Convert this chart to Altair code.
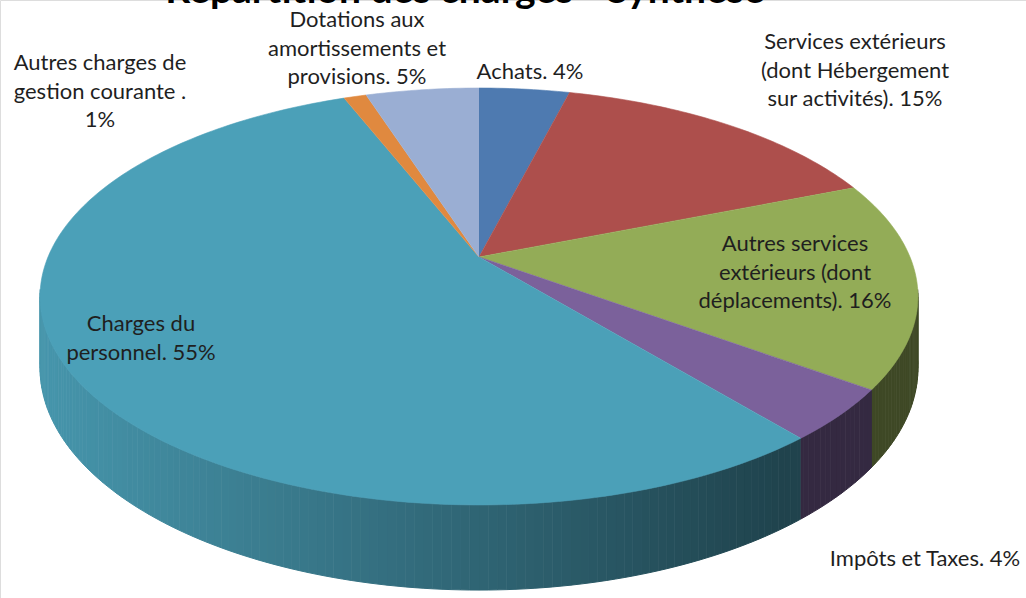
import numpy as np
import pandas as pd
import altair as alt

# ---------------- data ----------------
categories = [
    "Achats",
    "Services extérieurs (dont Hébergement sur activités)",
    "Autres services extérieurs (dont déplacements)",
    "Impôts et Taxes",
    "Charges du personnel",
    "Autres charges de gestion courante ",
    "Dotations aux amortissements et provisions",
]
percent = [4, 15, 16, 4, 55, 1, 5]
top_colors = ["#4E7AB0", "#AD4F4C", "#93AC57", "#7B619B", "#4BA0B8", "#E0893F", "#9AAED3"]

label_lines = [
    ["Achats. 4%"],
    ["Services extérieurs", "(dont Hébergement", "sur activités). 15%"],
    ["Autres services", "extérieurs (dont", "déplacements). 16%"],
    ["Impôts et Taxes. 4%"],
    ["Charges du", "personnel. 55%"],
    ["Autres charges de", "gestion courante .", "1%"],
    ["Dotations aux", "amortissements et", "provisions. 5%"],
]
# position of the first line of each label
label_x = [530, 855, 795, 925, 141, 100, 357]
label_y = [72, 42, 244, 559, 324, 63, 20]

title_text = "Répartition des charges - Synthèse"

# ---------------- 3D projection settings ----------------
W, H = 1026, 598
CX, AX = 479.0, 431.0
AY, BY, PC = 152.3, 257.0, -0.1894
DEPTH = 69.0


def proj(theta_deg):
    t = np.radians(theta_deg)
    u, v = np.sin(t), -np.cos(t)
    den = 1 + PC * v
    return CX + AX * u / den, (BY + AY * v) / den, den


def shade(hexcol, f):
    h = hexcol.lstrip("#")
    r, g, b = (int(h[i:i + 2], 16) for i in (0, 2, 4))
    return "#%02x%02x%02x" % tuple(int(max(0, min(255, round(c * f)))) for c in (r, g, b))


cum = np.concatenate([[0], np.cumsum(percent)]) / float(sum(percent)) * 360.0

# top surface polygons
top_rows = []
for i, cat in enumerate(categories):
    t0, t1 = cum[i], cum[i + 1]
    n = max(2, int(np.ceil(t1 - t0)) + 1)
    pts = [(CX, BY)]
    for t in np.linspace(t0, t1, n):
        x, y, _ = proj(t)
        pts.append((x, y))
    for k, (x, y) in enumerate(pts):
        top_rows.append({"poly": f"top{i}", "ord": k, "x": x, "y": y,
                         "col": top_colors[i], "cat": cat})
top_df = pd.DataFrame(top_rows)

# side wall polygons (front half only), shaded left-to-right
breaks = set(np.arange(99.0, 262.0, 1.0))
breaks.update([c for c in cum if 99 <= c <= 261])
breaks = sorted(breaks)
wall_rows = []
for j in range(len(breaks) - 1):
    a, b = breaks[j], breaks[j + 1]
    mid = 0.5 * (a + b)
    idx = int(np.searchsorted(cum, mid) - 1)
    xa, ya, da = proj(a)
    xb, yb, db = proj(b)
    xm = 0.5 * (xa + xb)
    f = 0.93 - (xm - 45.0) / (780.0 - 45.0) * 0.51
    f = max(0.42, min(0.93, f))
    col = shade(top_colors[idx], f)
    quad = [(xa, ya), (xb, yb), (xb, yb + DEPTH / db), (xa, ya + DEPTH / da)]
    for k, (x, y) in enumerate(quad):
        wall_rows.append({"poly": f"w{j}", "ord": k, "x": x, "y": y,
                          "col": col, "cat": categories[idx]})
wall_df = pd.DataFrame(wall_rows)

label_df = pd.DataFrame({
    "txt": ["\n".join(l) for l in label_lines],
    "x": label_x,
    "y": label_y,
})

xs = alt.Scale(domain=[0, W])
ys = alt.Scale(domain=[0, H], reverse=True)
X = alt.X("x:Q", scale=xs, axis=None)
Y = alt.Y("y:Q", scale=ys, axis=None)


def poly_layer(df, sw):
    return alt.Chart(df).mark_line(strokeWidth=sw, strokeJoin="round").encode(
        x=X, y=Y,
        order="ord:Q",
        detail="poly:N",
        fill=alt.Fill("col:N", scale=None),
        stroke=alt.Stroke("col:N", scale=None),
    )


walls = poly_layer(wall_df, 1)
tops = poly_layer(top_df, 0.6)

labels = alt.Chart(label_df).mark_text(
    font="Lato", fontSize=22, color="#1f1f1f", lineBreak="\n",
    lineHeight=28.5, align="center", baseline="middle",
).encode(x=X, y=Y, text="txt:N")

title = alt.Chart(pd.DataFrame({"t": [title_text]})).mark_text(
    font="Lato", fontSize=39, fontWeight="bold", color="#000000",
    align="center", baseline="alphabetic",
).encode(x=alt.value(465), y=alt.value(3), text="t:N")

chart = alt.layer(walls, tops, labels, title).properties(
    width=W, height=H, padding=0,
    autosize=alt.AutoSizeParams(type="none"),
).configure_view(stroke=None).configure(background="#ffffff")

chart.save("out.html", embed_options={"renderer": "svg", "actions": False})
